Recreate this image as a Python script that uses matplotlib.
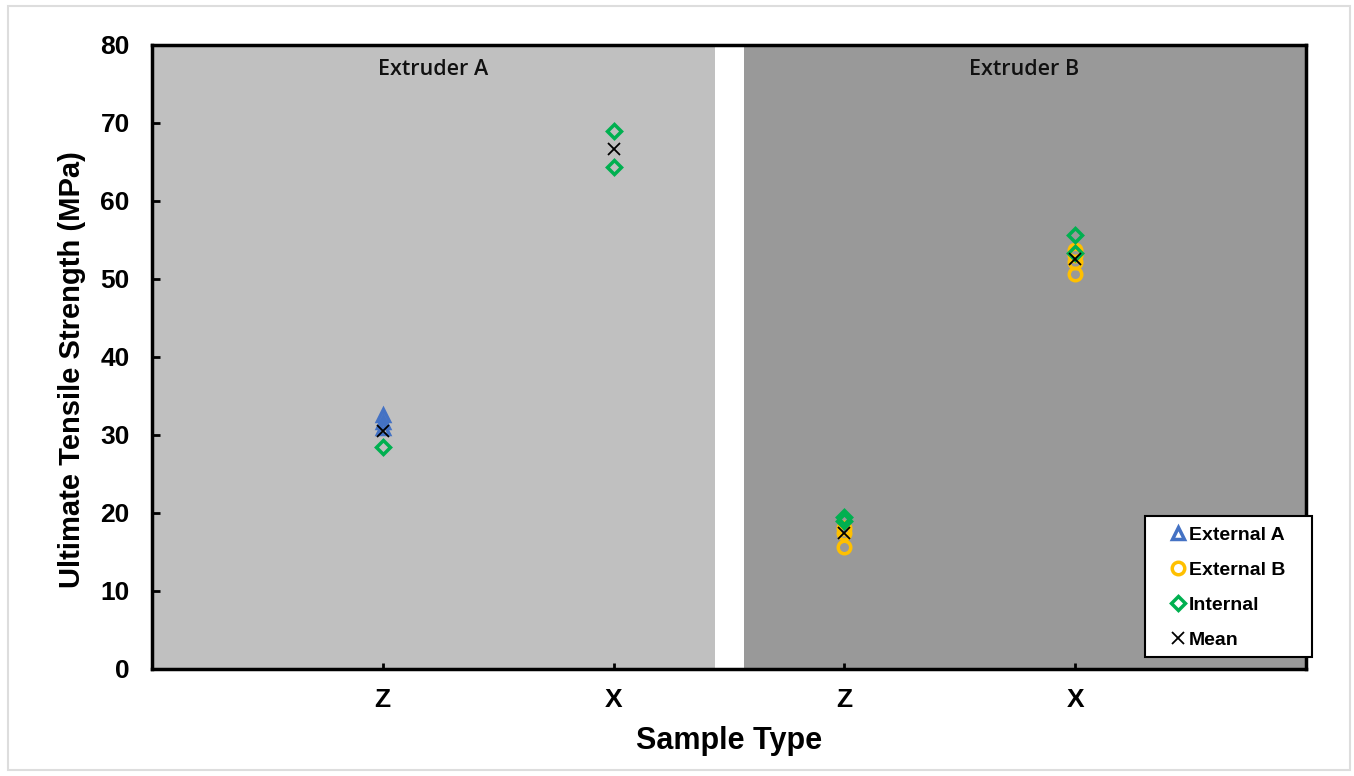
import matplotlib
matplotlib.use('Agg')
import matplotlib.pyplot as plt
from matplotlib.patches import Rectangle

plt.rcParams['font.family'] = ['Liberation Sans', 'DejaVu Sans']

# category positions and labels
positions = [1, 2, 3, 4]
tick_labels = ['Z', 'X', 'Z', 'X']

# External A (only Z, extruder A)
ext_a_x = [1, 1, 1]
ext_a_y = [32.6, 31.7, 30.9]

# External B (extruder B)
ext_b_x = [3, 3, 3, 4, 4, 4, 4]
ext_b_y = [18.1, 17.4, 15.7, 53.7, 53.1, 52.2, 50.6]

# Internal
int_x = [1, 2, 2, 3, 3, 4, 4]
int_y = [28.4, 69.0, 64.4, 19.5, 19.0, 55.7, 53.3]

# Mean
mean_x = [1, 2, 3, 4]
mean_y = [30.5, 66.7, 17.5, 52.6]

regions = ['Extruder A', 'Extruder B']

W, H = 1354, 776
fig = plt.figure(figsize=(W / 100, H / 100), dpi=100)
ax = fig.add_axes([152 / W, 1 - 669 / H, (1306 - 152) / W, (669 - 45) / H])

# background panels
ax.add_patch(Rectangle((0, 0), 2.44, 80, facecolor='#c0c0c0', edgecolor='none', zorder=0))
ax.add_patch(Rectangle((2.565, 0), 5 - 2.565, 80, facecolor='#999999', edgecolor='none', zorder=0))
ax.text(1.22, 76.8, regions[0], ha='center', va='center', fontsize=15.5,
        family=['Open Sans', 'DejaVu Sans'], fontweight='semibold', color='#111111')
ax.text(3.78, 76.8, regions[1], ha='center', va='center', fontsize=15.5,
        family=['Open Sans', 'DejaVu Sans'], fontweight='semibold', color='#111111')

mk = dict(linestyle='none', markerfacecolor='none', markeredgewidth=2.5, markersize=9)
ax.plot(ext_a_x, ext_a_y, marker='^', markeredgecolor='#4472c4', label='External A', zorder=3, **mk)
ax.plot(ext_b_x, ext_b_y, marker='o', markeredgecolor='#ffc000', label='External B', zorder=3, **mk)
ax.plot(int_x, int_y, marker='D', markeredgecolor='#00b050', label='Internal',
        linestyle='none', markerfacecolor='none', markeredgewidth=2.5, markersize=7.5, zorder=4)
ax.plot(mean_x, mean_y, marker='x', linestyle='none', color='black', markersize=9,
        markeredgewidth=1.3, label='Mean', zorder=5)

ax.set_xlim(0, 5)
ax.set_ylim(0, 80)
ax.set_xticks(positions)
ax.set_xticklabels(tick_labels, fontweight='bold', fontsize=19)
ax.set_yticks(range(0, 81, 10))
ax.set_yticklabels([str(v) for v in range(0, 81, 10)], fontweight='bold', fontsize=19)
for s in ax.spines.values():
    s.set_linewidth(2.5)
    s.set_zorder(6)
ax.tick_params(axis='both', direction='in', width=2)
ax.tick_params(axis='y', length=6, pad=16)
ax.tick_params(axis='x', length=4, pad=14)

ax.set_xlabel('Sample Type', fontsize=22, fontweight='bold', labelpad=10)
ax.set_ylabel('Ultimate Tensile Strength (MPa)', fontsize=21, fontweight='bold')
ax.yaxis.set_label_coords(-0.057, 0.48)

# legend: box drawn by hand, entries placed inside it
box = Rectangle((1145 / W, 1 - 657 / H), 167 / W, 141 / H, transform=fig.transFigure,
                facecolor='white', edgecolor='black', linewidth=1.5, clip_on=False, zorder=9)
ax.add_patch(box)
leg = ax.legend(loc='upper left', bbox_to_anchor=(1172 / W, 1 - 526 / H),
                bbox_transform=fig.transFigure, frameon=False,
                prop={'weight': 'bold', 'size': 14}, handlelength=0.6, handletextpad=0.25,
                borderpad=0, labelspacing=0.9, borderaxespad=0)
leg.set_zorder(10)

# light outer border
fig.patches.append(Rectangle((8 / W, 6 / H), 1342 / W, 764 / H, transform=fig.transFigure,
                             fill=False, edgecolor='#dddddd', linewidth=1.5))

plt.savefig('out.png', dpi=100)
plt.close()
